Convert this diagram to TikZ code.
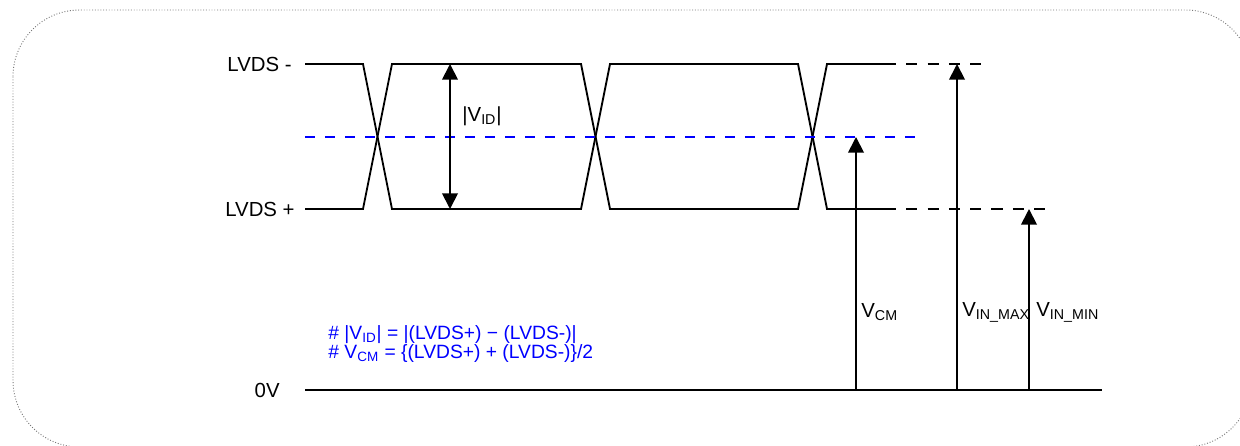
\documentclass[tikz,border=0pt]{standalone}
\usepackage{fontspec}
\setmainfont{Liberation Sans}
\usetikzlibrary{arrows.meta}
\definecolor{cmblue}{RGB}{0,0,255}
\definecolor{framegray}{RGB}{120,120,120}

\begin{document}
\begin{tikzpicture}[x=0.54pt, y=-0.54pt,
    sig/.style={line width=1pt, line join=miter},
    ext/.style={line width=1pt, dash pattern=on 6pt off 5.5pt},
    volt/.style={line width=1pt, -{Triangle[length=8.5pt, width=8.5pt]}},
    lbl/.style={inner sep=0pt, font=\fontsize{11}{13}\selectfont}]
    \useasboundingbox (0,0) rectangle (1240,445);

    % outer frame
    \draw[framegray, densely dotted, line width=0.5pt, rounded corners=36pt]
        (13,10) rectangle (1252,447);

    % level labels
    \node[lbl, anchor=east] (lvdsm) at (292,64) {LVDS -};
    \node[lbl, anchor=east] (lvdsp) at (295,209) {LVDS +};
    \node[lbl, anchor=east] (zero) at (280,390) {0V};

    % eye pattern
    \draw[sig] (305,64) -- (363,64) -- (392,209) -- (581,209) -- (610,64)
        -- (798,64) -- (827,209) -- (885,209);
    \draw[sig] (305,209) -- (363,209) -- (392,64) -- (581,64) -- (610,209)
        -- (798,209) -- (827,64) -- (885,64);
    \draw[ext] (885,64) -- (987,64);
    \draw[ext] (885,209) -- (1048,209);

    % common mode level
    \draw[cmblue, line width=1pt, dash pattern=on 5.4pt off 5.4pt] (305,137) -- (915,137);

    % 0V reference
    \draw[sig] (305,390) -- (1102,390);

    % arrow end points
    \coordinate (idtop) at (450,64);
    \coordinate (idbot) at (450,209);
    \coordinate (cmbase) at (856,390);
    \coordinate (cmtip) at (856,137);
    \coordinate (maxbase) at (957,390);
    \coordinate (maxtip) at (957,64);
    \coordinate (minbase) at (1029,390);
    \coordinate (mintip) at (1029,209);

    \draw[volt, {Triangle[length=8.5pt, width=8.5pt]}-{Triangle[length=8.5pt, width=8.5pt]}] (idbot) -- (idtop);
    \draw[volt] (cmbase) -- (cmtip);
    \draw[volt] (maxbase) -- (maxtip);
    \draw[volt] (minbase) -- (mintip);

    % voltage labels
    \node[lbl, anchor=west] (vid) at (462,116) {|V\textsubscript{ID}|};
    \node[lbl, anchor=west] (vcm) at (861,312) {V\textsubscript{CM}};
    \node[lbl, anchor=west] (vmax) at (962,312) {V\textsubscript{IN\_MAX}};
    \node[lbl, anchor=west] (vmin) at (1036,312) {V\textsubscript{IN\_MIN}};

    % definitions
    \node[lbl, anchor=west, align=left, text=cmblue, font=\fontsize{10.4}{10.5}\selectfont]
        (defs) at (328,344) {\# |V\textsubscript{ID}| = |(LVDS+) − (LVDS-)|\\
        \# V\textsubscript{CM} = \{(LVDS+) + (LVDS-)\}/2};
\end{tikzpicture}
\end{document}
